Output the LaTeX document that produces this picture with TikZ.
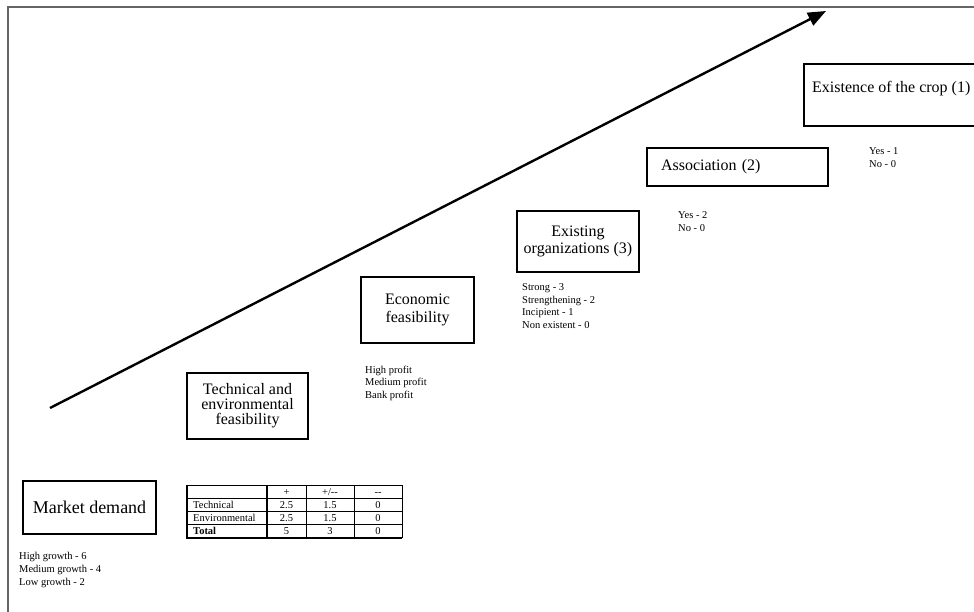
\documentclass[tikz,border=0pt]{standalone}
\usepackage{fontspec}
\setmainfont{Liberation Serif}
\usetikzlibrary{arrows.meta}
\begin{document}
\begin{tikzpicture}[x=1pt,y=-1pt,
  box/.style={draw,line width=1.8pt,rectangle,inner sep=0pt,align=center,font=\fontsize{16}{17.5}\selectfont},
  note/.style={anchor=north west,inner sep=0pt,align=left,font=\fontsize{10.5}{12.6}\selectfont},
  cell/.style={inner sep=0pt,anchor=base,font=\fontsize{10.5}{12}\selectfont},
  lcell/.style={inner sep=0pt,anchor=base west,font=\fontsize{10.5}{12}\selectfont},
  frame/.style={draw=black!60,line width=1.4pt},
  grid/.style={line width=0.7pt},
  ]
\useasboundingbox (0,0) rectangle (974,612);
% frame
\coordinate (f0) at (974,7);
\coordinate (f1) at (8,7);
\coordinate (f2) at (8,612);
\draw[frame] (f0) -- (f1) -- (f2);

% arrow
\coordinate (a0) at (50,408);
\coordinate (a1) at (826,11);
\draw[line width=2.4pt,-{Triangle[length=18pt,width=14pt]}] (a0) -- (a1);

% boxes
\node[box,minimum width=133pt,minimum height=53pt,font=\fontsize{18}{20}\selectfont] (market) at (89.5,507.5) {Market demand};
\node[box,minimum width=121pt,minimum height=66pt,font=\fontsize{16}{15}\selectfont] (tech) at (247.5,406) {Technical and\\environmental\\feasibility};
\node[box,minimum width=113pt,minimum height=66pt] (econ) at (417.5,310) {Economic\\feasibility};
\node[box,minimum width=122pt,minimum height=61pt] (org) at (578,241.5) {Existing\\organizations (3)};
\node[box,minimum width=181pt,minimum height=38pt,text width=153pt,align=left] (assoc) at (737.5,167) {Association (2)};
\node[box,minimum width=174pt,minimum height=62pt] (exist) at (891,95) {};
\node[anchor=west,inner sep=0pt,font=\fontsize{16}{17.5}\selectfont] (existtxt) at (812,89) {Existence of the crop (1)};

% notes
\node[note] (mnote) at (19,552.5) {High growth - 6\\Medium growth - 4\\Low growth - 2};
\node[note] (enote) at (365,365.5) {High profit\\Medium profit\\Bank profit};
\node[note] (onote) at (522,283.5) {Strong - 3\\Strengthening - 2\\Incipient - 1\\Non existent - 0};
\node[note] (anote) at (678,211.5) {Yes - 2\\No - 0};
\node[note] (xnote) at (869,147.5) {Yes - 1\\No - 0};

% table
\foreach \y in {485,498,511,524,538} \draw[grid] (187,\y) -- (402,\y);
\foreach \x in {187,267,306,354,402} \draw[grid] (\x,485) -- (\x,538);
\draw[line width=1.1pt] (187,485) -- (187,538) -- (402,538);
\draw[line width=1.1pt] (267,485) -- (267,538);
\node[cell] (h1) at (286.5,495) {+};
\node[cell] (h2) at (330,495) {+/-{}-};
\node[cell] (h3) at (378,495) {-{}-};
\node[lcell] (r1) at (193,508) {Technical};
\node[cell] (r1a) at (286.5,508) {2.5};
\node[cell] (r1b) at (330,508) {1.5};
\node[cell] (r1c) at (378,508) {0};
\node[lcell] (r2) at (193,521) {Environmental};
\node[cell] (r2a) at (286.5,521) {2.5};
\node[cell] (r2b) at (330,521) {1.5};
\node[cell] (r2c) at (378,521) {0};
\node[lcell] (r3) at (193,534.5) {\textbf{Total}};
\node[cell] (r3a) at (286.5,534.5) {5};
\node[cell] (r3b) at (330,534.5) {3};
\node[cell] (r3c) at (378,534.5) {0};
\end{tikzpicture}
\end{document}
